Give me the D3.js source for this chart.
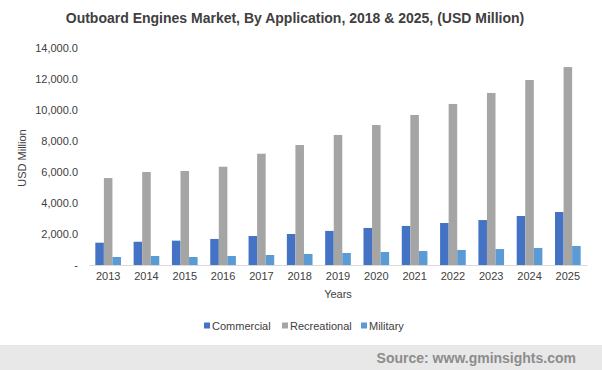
<!DOCTYPE html>
<html>
<head>
<meta charset="utf-8">
<script src="https://d3js.org/d3.v7.min.js"></script>
<style>
  body { margin: 0; background: #fff; }
  svg { display: block; font-family: "Liberation Sans", Arial, sans-serif; }
</style>
</head>
<body>
<div id="chart"></div>
<script>
const years = ["2013", "2014", "2015", "2016", "2017", "2018", "2019",
               "2020", "2021", "2022", "2023", "2024", "2025"];
const seriesNames = ["Commercial", "Recreational", "Military"];
const commercial = [1440, 1500, 1570, 1680, 1870, 2000, 2200, 2390, 2520, 2710, 2900, 3160, 3420];
const recreational = [5610, 6000, 6065, 6340, 7180, 7740, 8390, 9030, 9680, 10390, 11100, 11935, 12770];
const military = [516, 580, 516, 580, 645, 710, 775, 840, 900, 970, 1030, 1100, 1225];
const yTicks = [0, 2000, 4000, 6000, 8000, 10000, 12000, 14000];
const colors = ["#4472C4", "#A5A5A5", "#5B9BD5"];

const width = 602, height = 370;
const margin = {top: 48, right: 15, bottom: 105, left: 89};

const svg = d3.select("#chart").append("svg")
  .attr("width", width)
  .attr("height", height);

const table = years.map((y, i) => ({
  year: y,
  values: [commercial[i], recreational[i], military[i]]
}));

const x = d3.scaleBand()
  .domain(years)
  .range([margin.left, width - margin.right])
  .paddingInner(0.33)
  .paddingOuter(0.165);

const xInner = d3.scaleBand()
  .domain(seriesNames)
  .range([0, x.bandwidth()]);

const y = d3.scaleLinear()
  .domain([0, 14000])
  .range([height - margin.bottom, margin.top]);

// title
svg.append("text")
  .attr("x", 295)
  .attr("y", 18)
  .attr("dy", "0.35em")
  .attr("text-anchor", "middle")
  .attr("font-size", "14px")
  .attr("font-weight", "bold")
  .attr("fill", "#404040")
  .text("Outboard Engines Market, By Application, 2018 & 2025, (USD Million)");

// y axis
const yAxis = svg.append("g")
  .attr("transform", `translate(${margin.left},0)`)
  .call(d3.axisLeft(y).tickValues(yTicks).tickSize(0).tickPadding(11)
    .tickFormat(d => d === 0 ? "-" : d3.format(",.1f")(d)));
yAxis.select(".domain").remove();
yAxis.selectAll("text")
  .attr("font-size", "11px")
  .attr("font-family", "Liberation Sans, Arial, sans-serif")
  .attr("fill", "#404040");

// bars
const groups = svg.append("g").selectAll("g")
  .data(table)
  .join("g")
  .attr("transform", d => `translate(${x(d.year)},0)`);

groups.selectAll("rect")
  .data(d => d.values.map((v, k) => ({name: seriesNames[k], value: v, k})))
  .join("rect")
  .attr("x", d => xInner(d.name))
  .attr("width", xInner.bandwidth())
  .attr("y", d => y(d.value))
  .attr("height", d => y(0) - y(d.value))
  .attr("fill", d => colors[d.k]);

// x axis
const xAxis = svg.append("g")
  .attr("transform", `translate(0,${y(0)})`)
  .call(d3.axisBottom(x).tickSize(0).tickPadding(7));
xAxis.select(".domain").attr("stroke", "#D9D9D9").attr("stroke-width", 1);
xAxis.selectAll("text")
  .attr("font-size", "11px")
  .attr("font-family", "Liberation Sans, Arial, sans-serif")
  .attr("fill", "#404040");

// axis titles
svg.append("text")
  .attr("x", (margin.left + width - margin.right) / 2)
  .attr("y", 294)
  .attr("dy", "0.35em")
  .attr("text-anchor", "middle")
  .attr("font-size", "11px")
  .attr("fill", "#404040")
  .text("Years");

svg.append("text")
  .attr("transform", "translate(22,158) rotate(-90)")
  .attr("dy", "0.35em")
  .attr("text-anchor", "middle")
  .attr("font-size", "11px")
  .attr("fill", "#404040")
  .text("USD Million");

// legend
const legendX = [204, 282, 361];
const legend = svg.append("g").selectAll("g")
  .data(seriesNames)
  .join("g")
  .attr("transform", (d, i) => `translate(${legendX[i]},326)`);
legend.append("rect")
  .attr("x", 0).attr("y", -3.5)
  .attr("width", 6).attr("height", 6)
  .attr("fill", (d, i) => colors[i]);
legend.append("text")
  .attr("x", 8)
  .attr("dy", "0.35em")
  .attr("font-size", "11px")
  .attr("fill", "#404040")
  .text(d => d);

// footer
svg.append("rect")
  .attr("x", 0).attr("y", 345)
  .attr("width", width).attr("height", height - 345)
  .attr("fill", "#E8E8E8");
svg.append("text")
  .attr("x", 576)
  .attr("y", 358)
  .attr("dy", "0.35em")
  .attr("text-anchor", "end")
  .attr("font-size", "14px")
  .attr("font-weight", "bold")
  .attr("fill", "#8C8C8C")
  .text("Source: www.gminsights.com");
</script>
</body>
</html>
